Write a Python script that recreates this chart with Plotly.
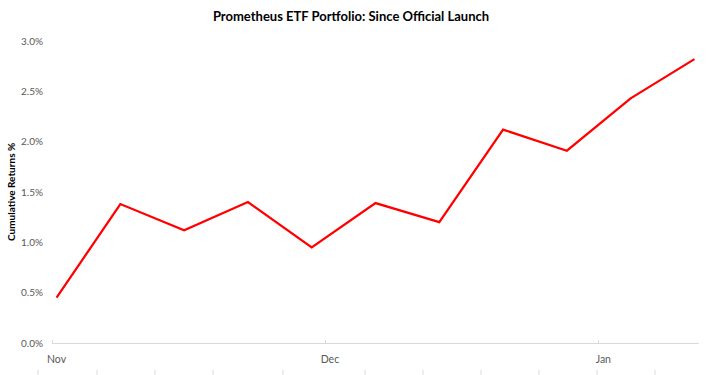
import plotly.graph_objects as go

# ---- data ----
dates = ["2016-11-04", "2016-11-11", "2016-11-18", "2016-11-25", "2016-12-02",
         "2016-12-09", "2016-12-16", "2016-12-23", "2016-12-30", "2017-01-06",
         "2017-01-13"]
cum_returns = [0.0045, 0.0138, 0.0112, 0.0140, 0.0095, 0.0139, 0.0120,
               0.0212, 0.0191, 0.0243, 0.0282]
y_ticks = [0.0, 0.005, 0.010, 0.015, 0.020, 0.025, 0.030]

title_text = "Prometheus ETF Portfolio: Since Official Launch"
y_title = "Cumulative Returns %"

FONT = "Lato"
W, H = 710, 375
# plot area in page pixels
PX0, PX1, PY0, PY1 = 52, 699, 41, 343
ML, MT = PX0, PY0
MR, MB = W - PX1, H - PY1
PW, PH = PX1 - PX0, PY1 - PY0

DAY_MS = 86400000


def paper_x(px):
    return (px - PX0) / PW


def paper_y(py):
    return (PY1 - py) / PH


fig = go.Figure()
fig.add_trace(go.Scatter(
    x=dates, y=cum_returns, mode="lines",
    line=dict(color="#FF0000", width=2.25),
    hoverinfo="skip", showlegend=False,
))

fig.update_layout(
    width=W, height=H,
    margin=dict(l=ML, r=MR, t=MT, b=MB, pad=0),
    paper_bgcolor="white", plot_bgcolor="white",
    font=dict(family=FONT, color="#595959", size=10),
    title=dict(text="<b>" + title_text + "</b>", x=351 / W, xref="container",
               xanchor="center", y=1 - 16 / H, yref="container",
               yanchor="middle",
               font=dict(family=FONT, size=13, color="#000000")),
    xaxis=dict(
        type="date",
        range=["2016-11-03 12:00", "2017-01-13 12:00"],
        tick0="2016-11-04", dtick=30 * DAY_MS, tickformat="%b",
        ticks="", showgrid=False, zeroline=False,
        showline=True, linecolor="#D9D9D9", linewidth=1,
        ticklabelstandoff=6,
        tickfont=dict(size=10.5, color="#595959"),
        minor=dict(tick0="2016-11-03 12:00", dtick=30 * DAY_MS,
                   ticks="inside", ticklen=3, tickcolor="#D9D9D9", showgrid=False),
    ),
    yaxis=dict(
        range=[0, 0.03], tickvals=y_ticks, tickformat=".1%",
        showgrid=False, zeroline=False, showline=False, ticks="",
        ticklabelstandoff=8,
        tickfont=dict(size=10, color="#595959"),
    ),
)

fig.add_annotation(
    text="<b>" + y_title + "</b>", textangle=-90,
    xref="paper", yref="paper", x=paper_x(11), y=0.5,
    xanchor="center", yanchor="middle", showarrow=False,
    font=dict(family=FONT, size=10, color="#000000"),
)

# faint stray tick marks along the bottom edge of the picture
stray_tick_px = [38, 97, 155, 213, 283, 365, 423, 481, 539, 597, 655]
for px in stray_tick_px:
    fig.add_shape(type="line", xref="paper", yref="paper",
                  x0=paper_x(px), x1=paper_x(px),
                  y0=paper_y(370), y1=paper_y(376),
                  line=dict(color="#D9D9D9", width=1))

fig.write_html("out.html", config={"displayModeBar": False},
               post_script="document.body.style.margin='0';")
